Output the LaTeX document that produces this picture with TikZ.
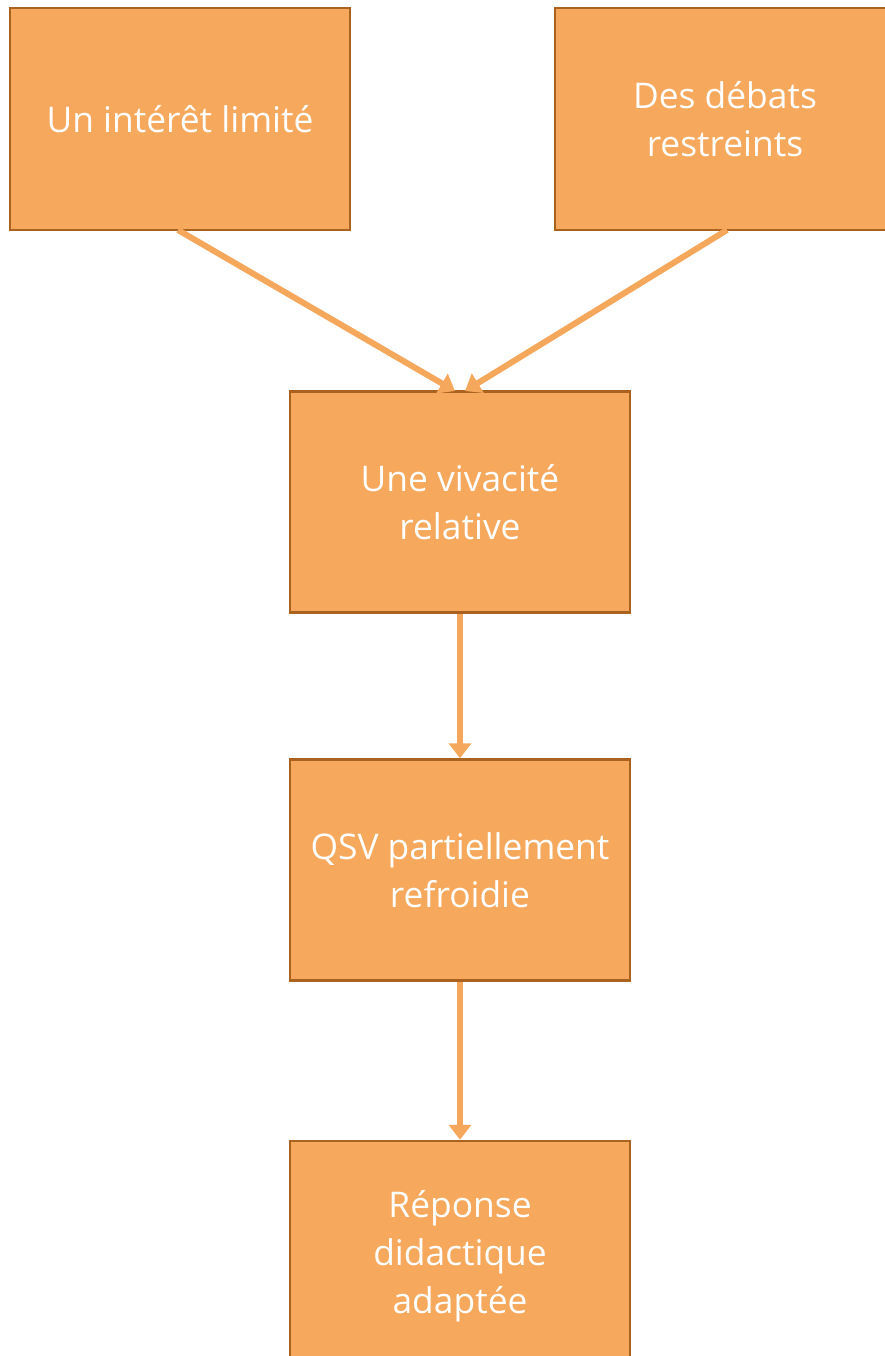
\documentclass[tikz,border=0pt]{standalone}
\usepackage{fontspec}
\setmainfont{Open Sans}
\usetikzlibrary{arrows.meta}
\definecolor{boxfill}{HTML}{F6A85C}
\definecolor{boxline}{HTML}{A9621F}
\definecolor{conn}{HTML}{F5A75C}
\begin{document}
\begin{tikzpicture}[x=1bp,y=-1bp,
  boxstyle/.style={draw=boxline,fill=boxfill,line width=2.5bp,text=white,
    align=center,font=\fontsize{35.5}{48}\selectfont,inner sep=0pt},
  connstyle/.style={draw=conn,line width=6bp,-{Triangle[length=15bp,width=22bp]}}]
\useasboundingbox (0,0) rectangle (884,1356);
\node[boxstyle,minimum width=340bp,minimum height=222bp] (a) at (180,119) {Un intérêt limité};
\node[boxstyle,minimum width=340bp,minimum height=222bp] (b) at (725,119) {Des débats\\restreints};
\node[boxstyle,minimum width=340bp,minimum height=221bp] (c) at (460,502) {Une vivacité\\relative};
\node[boxstyle,minimum width=340bp,minimum height=221bp] (d) at (460,870) {QSV partiellement\\refroidie};
\node[boxstyle,minimum width=340bp,minimum height=230bp] (e) at (460,1256) {Réponse\\didactique\\adaptée};
\coordinate (a1) at (178,230);
\coordinate (b1) at (727,230);
\coordinate (c1) at (455,391);
\coordinate (c2) at (465,391);
\draw[connstyle] (a1) -- (c1);
\draw[connstyle] (b1) -- (c2);
\draw[connstyle] (c.south) -- (d.north);
\draw[connstyle] (d.south) -- (e.north);
\end{tikzpicture}
\end{document}
